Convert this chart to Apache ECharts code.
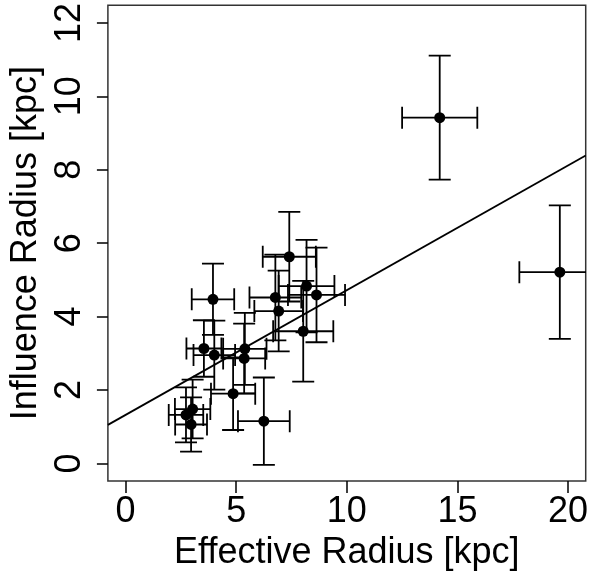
<!DOCTYPE html>
<html>
<head>
<meta charset="utf-8">
<script src="https://cdn.jsdelivr.net/npm/echarts@6/dist/echarts.min.js"></script>
<style>html,body{margin:0;padding:0;background:#fff;}#c{width:591px;height:576px;}</style>
</head>
<body>
<div id="c"></div>
<script>
const xVals = [14.20, 19.63, 7.40, 3.95, 8.18, 8.63, 6.77, 6.92, 8.03, 3.54, 4.01, 5.39, 5.36, 4.86, 6.25, 3.03, 2.73, 2.96];
const yVals = [9.42, 5.21, 5.63, 4.47, 4.83, 4.59, 4.52, 4.15, 3.60, 3.13, 2.95, 3.12, 2.86, 1.90, 1.15, 1.48, 1.32, 1.06];
const xErr  = [1.70, 1.83, 1.20, 0.96, 1.26, 1.29, 1.17, 1.10, 1.36, 0.79, 0.94, 0.98, 0.95, 1.00, 1.17, 0.80, 0.78, 0.72];
const yErr  = [1.69, 1.82, 1.22, 0.97, 1.26, 1.29, 1.17, 1.10, 1.37, 0.77, 0.94, 0.98, 0.95, 0.99, 1.19, 0.80, 0.75, 0.74];
const fitLine = [[-0.8, 1.05], [20.8, 8.39]];
const xTicks = [0, 5, 10, 15, 20];
const yTicks = [0, 2, 4, 6, 8, 10, 12];
const xTitle = 'Effective Radius [kpc]';
const yTitle = 'Influence Radius [kpc]';

const pts = xVals.map((x, i) => [x, yVals[i]]);
const errData = xVals.map((x, i) => [x, yVals[i], xErr[i], yErr[i]]);
const FONT = 'Liberation Sans, Arial, Helvetica, sans-serif';

const chart = echarts.init(document.getElementById('c'));
chart.setOption({
  animation: false,
  backgroundColor: '#fff',
  grid: { left: 107, right: 5, top: 5, bottom: 93, show: true, borderColor: '#333', borderWidth: 1.5, backgroundColor: 'transparent' },
  xAxis: {
    type: 'value', min: -0.8, max: 20.8,
    splitLine: { show: false },
    axisLine: { show: false, onZero: false },
    axisTick: { show: true, inside: false, length: 12, customValues: xTicks, lineStyle: { color: '#000', width: 1.5 } },
    axisLabel: { customValues: xTicks, fontSize: 36, fontFamily: FONT, color: '#000', margin: 13 },
    name: xTitle, nameLocation: 'middle', nameGap: 54,
    nameTextStyle: { fontSize: 36, fontFamily: FONT, color: '#000' }
  },
  yAxis: {
    type: 'value', min: -0.48, max: 12.48,
    splitLine: { show: false },
    axisLine: { show: false, onZero: false },
    axisTick: { show: true, inside: false, length: 11, customValues: yTicks, lineStyle: { color: '#000', width: 1.5 } },
    axisLabel: { customValues: yTicks, fontSize: 36, fontFamily: FONT, color: '#000', margin: 20, rotate: 90 },
    name: yTitle, nameLocation: 'middle', nameGap: 60, nameRotate: 90,
    nameTextStyle: { fontSize: 36, fontFamily: FONT, color: '#000' }
  },
  series: [
    {
      type: 'line', data: fitLine, showSymbol: false, clip: true,
      lineStyle: { color: '#000', width: 1.8 }, z: 2
    },
    {
      type: 'custom', clip: true, data: errData, z: 3,
      renderItem: function (params, api) {
        const x = api.value(0), y = api.value(1), ex = api.value(2), ey = api.value(3);
        const c = api.coord([x, y]);
        const l = api.coord([x - ex, y]);
        const r = api.coord([x + ex, y]);
        const t = api.coord([x, y + ey]);
        const b = api.coord([x, y - ey]);
        const h = 11;
        const st = { stroke: '#000', lineWidth: 1.8 };
        return {
          type: 'group',
          children: [
            { type: 'line', shape: { x1: l[0], y1: c[1], x2: r[0], y2: c[1] }, style: st },
            { type: 'line', shape: { x1: l[0], y1: c[1] - h, x2: l[0], y2: c[1] + h }, style: st },
            { type: 'line', shape: { x1: r[0], y1: c[1] - h, x2: r[0], y2: c[1] + h }, style: st },
            { type: 'line', shape: { x1: c[0], y1: t[1], x2: c[0], y2: b[1] }, style: st },
            { type: 'line', shape: { x1: c[0] - h, y1: t[1], x2: c[0] + h, y2: t[1] }, style: st },
            { type: 'line', shape: { x1: c[0] - h, y1: b[1], x2: c[0] + h, y2: b[1] }, style: st }
          ]
        };
      }
    },
    {
      type: 'scatter', data: pts, symbol: 'circle', symbolSize: 11, z: 4,
      itemStyle: { color: '#000', opacity: 1 }
    }
  ]
});
</script>
</body>
</html>
